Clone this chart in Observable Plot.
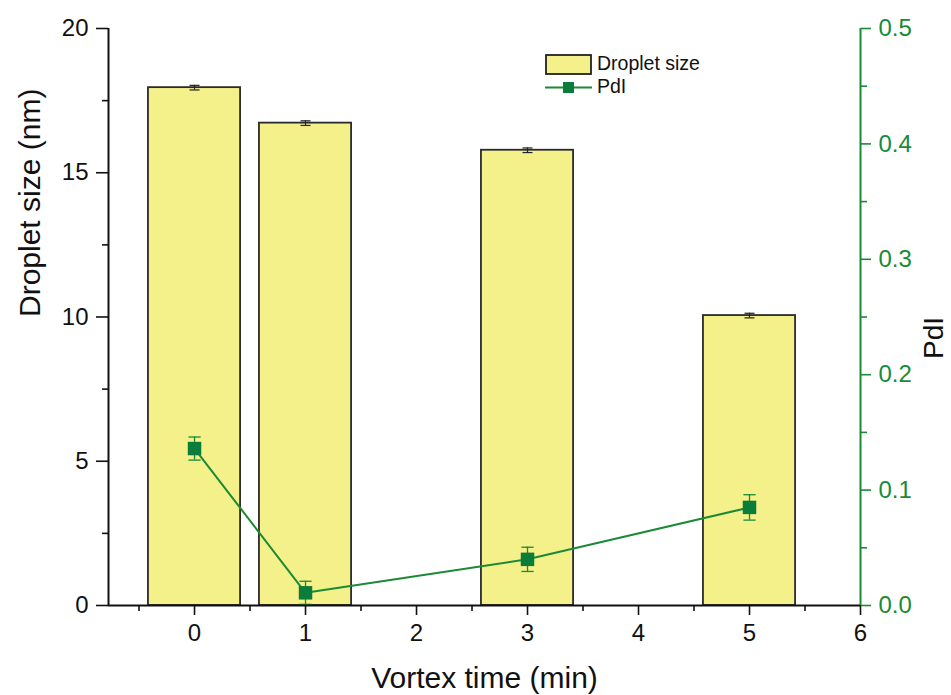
<!DOCTYPE html>
<html><head><meta charset="utf-8">
<script src="https://cdn.jsdelivr.net/npm/d3@7"></script>
<script src="https://cdn.jsdelivr.net/npm/@observablehq/plot@0.6"></script>
<style>
body{margin:0;background:#fff;}
#wrap{position:relative;width:951px;height:695px;font-family:"Liberation Sans",Arial,sans-serif;}
#legend{position:absolute;left:0;top:0;pointer-events:none;}
</style>
</head><body><div id="wrap"></div>
<script>
// ---- data ----
const times = [0, 1, 3, 5];
const dropletSize = [17.95, 16.72, 15.78, 10.05];
const dropletErr = [0.08, 0.08, 0.08, 0.08];
const pdi = [0.136, 0.011, 0.040, 0.085];
const pdiErr = [0.010, 0.010, 0.0105, 0.011];
const xTicks = [0, 1, 2, 3, 4, 5, 6];
const xMinor = [-0.5, 0.5, 1.5, 2.5, 3.5, 4.5, 5.5];
const yTicks = [0, 5, 10, 15, 20];
const yMinor = [2.5, 7.5, 12.5, 17.5];
const pdiTicks = [0, 0.1, 0.2, 0.3, 0.4, 0.5];
const pdiMinor = [0.05, 0.15, 0.25, 0.35, 0.45];

// ---- layout ----
const W = 951, H = 695;
const xMin = -0.775, xMax = 6;
const k = 40; // PdI 0..0.5 mapped onto the left 0..20 scale
const halfBar = 0.415;
const green = "#1a8a35";
const markerGreen = "#0b7d3a";
const font = "'Liberation Sans', Arial, sans-serif";

const rows = times.map((t, i) => ({
  t, size: dropletSize[i], sErr: dropletErr[i],
  p: pdi[i] * k, pErr: pdiErr[i] * k
}));

const chart = Plot.plot({
  width: W, height: H,
  marginLeft: 108, marginRight: 91, marginTop: 28, marginBottom: 90,
  x: {domain: [xMin, xMax]},
  y: {domain: [0, 20]},
  style: {fontFamily: font, fontSize: "24px", color: "#111", background: "#fff", overflow: "visible"},
  marks: [
    // bars
    Plot.rectY(rows, {x1: d => d.t - halfBar, x2: d => d.t + halfBar, y1: 0, y2: "size",
      fill: "#f4f08a", stroke: "#2a2a2a", strokeWidth: 1.8}),
    // bar error bars
    Plot.ruleX(rows, {x: "t", y1: d => d.size - d.sErr, y2: d => d.size + d.sErr, stroke: "#222", strokeWidth: 1.2}),
    Plot.link(rows, {x1: d => d.t - 0.045, x2: d => d.t + 0.045, y1: d => d.size + d.sErr, y2: d => d.size + d.sErr, stroke: "#222", strokeWidth: 1.2}),
    Plot.link(rows, {x1: d => d.t - 0.045, x2: d => d.t + 0.045, y1: d => d.size - d.sErr, y2: d => d.size - d.sErr, stroke: "#222", strokeWidth: 1.2}),
    // PdI line
    Plot.line(rows, {x: "t", y: "p", stroke: green, strokeWidth: 2}),
    Plot.ruleX(rows, {x: "t", y1: d => d.p - d.pErr, y2: d => d.p + d.pErr, stroke: green, strokeWidth: 1.3}),
    Plot.link(rows, {x1: d => d.t - 0.055, x2: d => d.t + 0.055, y1: d => d.p + d.pErr, y2: d => d.p + d.pErr, stroke: green, strokeWidth: 1.3}),
    Plot.link(rows, {x1: d => d.t - 0.055, x2: d => d.t + 0.055, y1: d => d.p - d.pErr, y2: d => d.p - d.pErr, stroke: green, strokeWidth: 1.3}),
    Plot.dot(rows, {x: "t", y: "p", symbol: "square", r: 7.6, fill: markerGreen, stroke: "none"}),
    // axis lines
    Plot.ruleY([0], {stroke: "#111", strokeWidth: 2}),
    Plot.ruleX([xMin], {stroke: "#111", strokeWidth: 2}),
    Plot.ruleX([xMax], {stroke: green, strokeWidth: 2}),
    // x axis
    Plot.axisX({ticks: xTicks, tickSize: 10, tickPadding: 8, tickFormat: d => String(d), label: null, fontSize: 24, strokeWidth: 1.6}),
    Plot.axisX({ticks: xMinor, tickSize: 6, tickFormat: () => "", label: null, strokeWidth: 1.6}),
    // left axis
    Plot.axisY({anchor: "left", ticks: yTicks, tickSize: 12, tickPadding: 8, tickFormat: d => String(d), label: null, fontSize: 24, strokeWidth: 1.6}),
    Plot.axisY({anchor: "left", ticks: yMinor, tickSize: 6, tickFormat: () => "", label: null, strokeWidth: 1.6}),
    // right axis (PdI)
    Plot.axisY({anchor: "right", ticks: pdiTicks.map(v => v * k), tickSize: 10, tickPadding: 8,
      tickFormat: d => (d / k).toFixed(1), label: null, fontSize: 24, color: green, stroke: green, fill: green, strokeWidth: 1.6}),
    Plot.axisY({anchor: "right", ticks: pdiMinor.map(v => v * k), tickSize: 6, tickFormat: () => "", label: null, color: green, stroke: green, strokeWidth: 1.6}),
    // axis titles
    Plot.text(["Vortex time (min)"], {frameAnchor: "bottom", dy: 73, lineAnchor: "middle", fontSize: 30, fill: "#111"}),
    Plot.text(["Droplet size (nm)"], {frameAnchor: "left", dx: -78, rotate: -90, lineAnchor: "middle", fontSize: 30, fill: "#111"}),
    Plot.text(["PdI"], {frameAnchor: "right", dx: 74, rotate: -90, lineAnchor: "middle", fontSize: 28, fill: "#111"})
  ]
});

// enlarge the tick labels (everything that is not an axis title)
const titles = new Set(["Vortex time (min)", "Droplet size (nm)", "PdI"]);
d3.select(chart).selectAll("text").each(function () {
  if (!titles.has(this.textContent)) this.style.setProperty("font-size", "24px", "important");
});

const wrap = document.getElementById("wrap");
wrap.appendChild(chart);

// legend overlay
const ns = "http://www.w3.org/2000/svg";
const leg = document.createElementNS(ns, "svg");
leg.setAttribute("id", "legend");
leg.setAttribute("width", W);
leg.setAttribute("height", 120);
leg.innerHTML = `
  <rect x="546" y="55" width="45" height="19" fill="#f4f08a" stroke="#222" stroke-width="1.8"/>
  <text x="597" y="64.5" dominant-baseline="middle" font-family="${font}" font-size="19.5" fill="#111">Droplet size</text>
  <line x1="545" x2="592" y1="87.5" y2="87.5" stroke="${green}" stroke-width="2"/>
  <rect x="563" y="82" width="11" height="11" fill="${markerGreen}"/>
  <text x="597" y="88" dominant-baseline="middle" font-family="${font}" font-size="19.5" fill="#111">PdI</text>`;
wrap.appendChild(leg);
</script>
</body></html>
